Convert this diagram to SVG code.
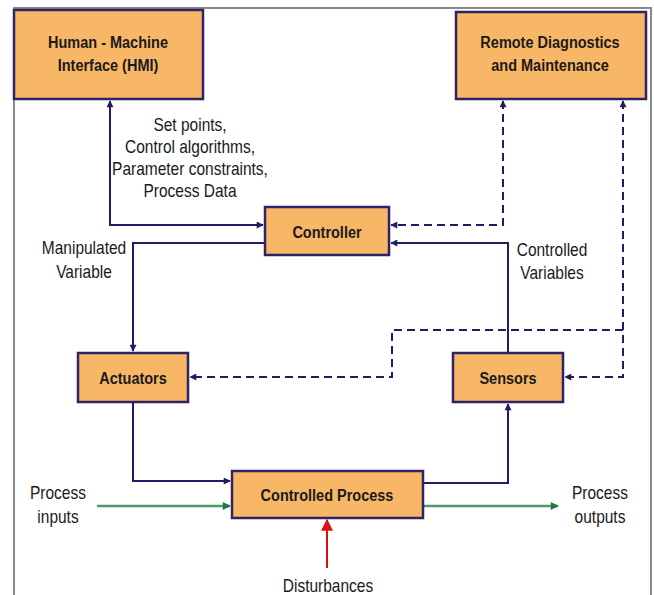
<svg xmlns="http://www.w3.org/2000/svg" width="654" height="595" viewBox="0 0 654 595">
  <style>
    .box { fill: #F8B766; stroke: #2d2366; stroke-width: 2.5; }
    .bt { font-family: "Liberation Sans", Arial, sans-serif; font-size: 14.5px; font-weight: bold; fill: #1a1a1a; text-anchor: middle; }
    .lt { font-family: "Liberation Sans", Arial, sans-serif; font-size: 15.5px; fill: #1a1a1a; text-anchor: middle; }
    .wire { fill: none; stroke: #1f1d66; stroke-width: 2; }
    .dash { fill: none; stroke: #1f1d66; stroke-width: 2; stroke-dasharray: 8 5; }
    .flow { fill: none; stroke: #4e9a6c; stroke-width: 2.5; }
    .dist { fill: none; stroke: #e01010; stroke-width: 2; }
  </style>
  <defs>
    <marker id="ah" viewBox="0 0 10 10" refX="9" refY="5" markerUnits="userSpaceOnUse" markerWidth="8" markerHeight="7" orient="auto-start-reverse">
      <path d="M0,0 L10,5 L0,10 z" fill="#1f1d66"/>
    </marker>
    <marker id="ag" viewBox="0 0 10 10" refX="9" refY="5" markerUnits="userSpaceOnUse" markerWidth="9" markerHeight="8" orient="auto">
      <path d="M0,0 L10,5 L0,10 z" fill="#1f7a3c"/>
    </marker>
    <marker id="ar" viewBox="0 0 10 10" refX="9" refY="5" markerUnits="userSpaceOnUse" markerWidth="16" markerHeight="12" orient="auto">
      <path d="M0,0 L10,5 L0,10 z" fill="#e01010"/>
    </marker>
  </defs>

  <rect width="654" height="595" fill="#ffffff"/>
  <!-- frame -->
  <rect x="14" y="8" width="637" height="600" fill="none" stroke="#8a8a8a" stroke-width="2"/>

  <g id="connectors">
    <path class="wire" d="M110,101 V225 H263" marker-start="url(#ah)" marker-end="url(#ah)"/>
    <path class="wire" d="M265,243 H133 V351" marker-end="url(#ah)"/>
    <path class="wire" d="M508,353 V243 H391" marker-end="url(#ah)"/>
    <path class="wire" d="M133,402 V481 H230" marker-end="url(#ah)"/>
    <path class="wire" d="M423,483 H508 V404" marker-end="url(#ah)"/>
    <path class="dash" d="M503,101 V225 H391" marker-start="url(#ah)" marker-end="url(#ah)"/>
    <path class="dash" d="M623,101 V377 H565" marker-start="url(#ah)" marker-end="url(#ah)"/>
    <path class="dash" d="M623,330 H392 V377 H190" marker-end="url(#ah)"/>
    <path class="flow" d="M97,506 H230" marker-end="url(#ag)"/>
    <path class="flow" d="M423,506 H558" marker-end="url(#ag)"/>
    <path class="dist" d="M327,568 V520" marker-end="url(#ar)"/>
  </g>

  <!-- glyphs are drawn slightly tall: each text is stretched vertically about its baseline -->
  <g id="hmi">
    <rect class="box" x="14" y="10" width="189" height="89"/>
    <text class="bt" transform="translate(108,48) scale(1,1.2)">Human - Machine</text>
    <text class="bt" transform="translate(108,71) scale(1,1.2)">Interface (HMI)</text>
  </g>
  <g id="remote">
    <rect class="box" x="456" y="12" width="190" height="87"/>
    <text class="bt" transform="translate(550,48) scale(1,1.2)">Remote Diagnostics</text>
    <text class="bt" transform="translate(550,71) scale(1,1.2)">and Maintenance</text>
  </g>
  <g id="controller">
    <rect class="box" x="265" y="207" width="124" height="48"/>
    <text class="bt" transform="translate(327,238) scale(1,1.2)">Controller</text>
  </g>
  <g id="actuators">
    <rect class="box" x="78" y="353" width="110" height="49"/>
    <text class="bt" transform="translate(133,384) scale(1,1.2)">Actuators</text>
  </g>
  <g id="sensors">
    <rect class="box" x="453" y="353" width="110" height="49"/>
    <text class="bt" transform="translate(508,384) scale(1,1.2)">Sensors</text>
  </g>
  <g id="process">
    <rect class="box" x="232" y="471" width="191" height="47"/>
    <text class="bt" transform="translate(327,501) scale(1,1.2)">Controlled Process</text>
  </g>

  <g id="labels">
    <text class="lt" transform="translate(190,131) scale(1,1.2)">Set points,</text>
    <text class="lt" transform="translate(190,153) scale(1,1.2)">Control algorithms,</text>
    <text class="lt" transform="translate(190,175) scale(1,1.2)">Parameter constraints,</text>
    <text class="lt" transform="translate(190,197) scale(1,1.2)">Process Data</text>
    <text class="lt" transform="translate(84,254) scale(1,1.2)">Manipulated</text>
    <text class="lt" transform="translate(84,278) scale(1,1.2)">Variable</text>
    <text class="lt" transform="translate(552,256) scale(1,1.2)">Controlled</text>
    <text class="lt" transform="translate(552,279) scale(1,1.2)">Variables</text>
    <text class="lt" transform="translate(58,499) scale(1,1.2)">Process</text>
    <text class="lt" transform="translate(58,523) scale(1,1.2)">inputs</text>
    <text class="lt" transform="translate(600,499) scale(1,1.2)">Process</text>
    <text class="lt" transform="translate(600,523) scale(1,1.2)">outputs</text>
    <text class="lt" transform="translate(328,592) scale(1,1.2)">Disturbances</text>
  </g>
</svg>
